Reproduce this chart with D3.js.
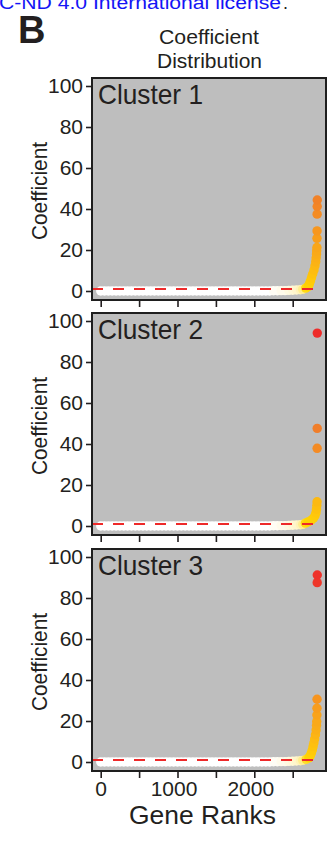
<!DOCTYPE html>
<html>
<head>
<meta charset="utf-8">
<script src="https://cdn.jsdelivr.net/npm/d3@7"></script>
<style>
    body { margin: 0; background: #fff; }
    svg { display: block; }
    text { font-family: "Liberation Sans", Arial, sans-serif; fill: #231f20; }
</style>
</head>
<body>
<script>
//chart values
var clusterNames = ["Cluster 1", "Cluster 2", "Cluster 3"];
var yTicks = [0, 20, 40, 60, 80, 100];
var xTicks = [0, 500, 1000, 1500, 2000, 2500];
var xTickLabels = ["0", "", "1000", "", "2000", ""];
var threshold = 1;

//bulk of the genes, coefficient about zero (same in the three clusters)
var lowRanks = [1, 50, 100, 150, 200, 250, 300, 350, 400, 450, 500, 550, 600, 650, 700, 750,
    800, 850, 900, 950, 1000, 1050, 1100, 1150, 1200, 1250, 1300, 1350, 1400, 1450, 1500, 1550,
    1600, 1650, 1700, 1750, 1800, 1850, 1900, 1950, 2000, 2050, 2100, 2150, 2200, 2250, 2300,
    2350, 2400, 2450, 2500, 2550, 2600];
var lowCoef = [0, 0, 0, 0, 0, 0, 0, 0, 0, 0, 0, 0, 0, 0, 0, 0,
    0, 0, 0, 0, 0, 0, 0, 0, 0, 0, 0, 0, 0, 0, 0, 0,
    0, 0, 0, 0, 0, 0, 0, 0, 0, 0, 0, 0, 0, 0.1, 0.1,
    0.2, 0.2, 0.3, 0.4, 0.5, 0.6];

//top ranked genes of each cluster
var tailRanks1 = [2630, 2670, 2700, 2715, 2730, 2745, 2760, 2777, 2790, 2800, 2806, 2810, 2812, 2815, 2816, 2817, 2818, 2819, 2820];
var tailCoef1 = [0.8, 1.4, 2.1, 3.2, 4.8, 6.5, 8.3, 10.2, 12.3, 14.3, 16.2, 18.0, 19.6, 21.2, 25.7, 29.3, 37.5, 41.2, 44.4];
var tailRanks2 = [2630, 2665, 2700, 2740, 2770, 2790, 2803, 2810, 2814, 2817, 2818, 2819, 2820];
var tailCoef2 = [0.8, 1.4, 2.0, 2.8, 3.8, 5.0, 6.5, 8.2, 10.0, 11.8, 37.9, 47.6, 94.1];
var tailRanks3 = [2630, 2675, 2710, 2728, 2742, 2755, 2765, 2776, 2786, 2796, 2805, 2810, 2813, 2815, 2816, 2817, 2819, 2820];
var tailCoef3 = [0.8, 1.3, 2.0, 3.0, 4.3, 5.8, 7.5, 9.3, 11.2, 13.3, 15.6, 17.8, 19.7, 22.9, 26.2, 30.6, 87.5, 91.2];

var tailRanks = [tailRanks1, tailRanks2, tailRanks3];
var tailCoefs = [tailCoef1, tailCoef2, tailCoef3];

window.onload = function () {
    var w = 328, h = 846;
    var left = 92, right = 326, panelH = 222;
    var panelTops = [78, 313, 549];
    var ink = "#231f20";

    var svg = d3.select("body").append("svg")
        .attr("width", w)
        .attr("height", h);

    //cut-off license line at the top of the page
    svg.append("text")
        .attr("x", -1).attr("y", 9)
        .attr("font-size", 18)
        .attr("textLength", 282).attr("lengthAdjust", "spacingAndGlyphs")
        .style("fill", "#1414f5")
        .text("C-ND 4.0 International license");
    svg.append("text")
        .attr("x", 283).attr("y", 9)
        .attr("font-size", 18)
        .text(".");

    //panel letter
    svg.append("text")
        .attr("x", 18).attr("y", 43)
        .attr("font-size", 38)
        .attr("font-weight", "bold")
        .text("B");

    //chart title, two lines
    svg.append("text")
        .attr("x", 209).attr("y", 44)
        .attr("text-anchor", "middle")
        .attr("font-size", 21)
        .attr("textLength", 100).attr("lengthAdjust", "spacingAndGlyphs")
        .text("Coefficient");
    svg.append("text")
        .attr("x", 209.5).attr("y", 68)
        .attr("text-anchor", "middle")
        .attr("font-size", 21)
        .attr("textLength", 105).attr("lengthAdjust", "spacingAndGlyphs")
        .text("Distribution");

    //x scale shared by the panels
    var x = d3.scaleLinear()
        .domain([0, 2500])
        .range([100.7, 292.7]);

    //y scale inside one panel
    var y = d3.scaleLinear()
        .domain([0, 100])
        .range([213, 8]);

    //colour goes white -> yellow -> orange -> red with the coefficient
    var color = d3.scaleLinear()
        .domain([0, 0.5, 1.5, 6, 15, 30, 48, 95])
        .range(["#ffffff", "#fff6cc", "#ffd700", "#ffc80a", "#fbb116", "#f7961f", "#f07d2a", "#ee2a2a"])
        .clamp(true);

    clusterNames.forEach(function (name, i) {
        var g = svg.append("g")
            .attr("class", "panel")
            .attr("transform", "translate(0," + panelTops[i] + ")");

        //grey panel
        g.append("rect")
            .attr("x", left).attr("y", 0)
            .attr("width", right - left).attr("height", panelH)
            .style("fill", "#bebebe");

        //points, drawn in rank order so the top genes sit on top
        var pts = lowRanks.map(function (r, k) { return { rank: r, coef: lowCoef[k] }; })
            .concat(tailRanks[i].map(function (r, k) { return { rank: r, coef: tailCoefs[i][k] }; }));

        g.selectAll(".dot")
            .data(pts)
            .enter()
            .append("circle")
            .attr("class", "dot")
            .attr("cx", function (d) { return x(d.rank); })
            .attr("cy", function (d) { return y(d.coef); })
            .attr("r", 4.7)
            .style("fill", function (d) { return color(d.coef); });

        //threshold line
        g.append("line")
            .attr("x1", left).attr("x2", x(d3.max(tailRanks[i])))
            .attr("y1", y(threshold)).attr("y2", y(threshold))
            .style("stroke", "#ee2a2a")
            .style("stroke-width", 2)
            .style("stroke-dasharray", "11,10");

        //panel border
        g.append("rect")
            .attr("x", left).attr("y", 0)
            .attr("width", right - left).attr("height", panelH)
            .style("fill", "none")
            .style("stroke", "#1e1e1e")
            .style("stroke-width", 2);

        //cluster label
        g.append("text")
            .attr("x", 98).attr("y", 26)
            .attr("font-size", 28)
            .attr("textLength", 105).attr("lengthAdjust", "spacingAndGlyphs")
            .text(name);

        //y axis
        var yAxis = g.append("g")
            .attr("class", "axis")
            .attr("transform", "translate(" + (left - 1) + ",0)")
            .call(d3.axisLeft(y).tickValues(yTicks).tickSize(5).tickPadding(3));
        yAxis.select(".domain").remove();
        yAxis.attr("font-family", null).attr("font-size", null);
        yAxis.selectAll("line").style("stroke", ink).style("stroke-width", 1.6);
        yAxis.selectAll("text").attr("font-size", 21).style("fill", ink);

        //x axis ticks under every panel, numbers under the last one only
        var last = i === clusterNames.length - 1;
        var xAxis = g.append("g")
            .attr("class", "axis")
            .attr("transform", "translate(0," + (panelH + 1) + ")")
            .call(d3.axisBottom(x).tickValues(xTicks).tickSize(6).tickPadding(3)
                .tickFormat(function (d, k) { return last ? xTickLabels[k] : ""; }));
        xAxis.select(".domain").remove();
        xAxis.attr("font-family", null).attr("font-size", null);
        xAxis.selectAll("line").style("stroke", ink).style("stroke-width", 1.6);
        xAxis.selectAll("text").attr("font-size", 21).style("fill", ink)
            .attr("dx", function (d) { return d > 0 ? -4 : 0; });

        //y axis title
        g.append("text")
            .attr("transform", "translate(46.5," + (panelH / 2 + 2) + ") rotate(-90)")
            .attr("text-anchor", "middle")
            .attr("font-size", 22)
            .attr("textLength", 98).attr("lengthAdjust", "spacingAndGlyphs")
            .text("Coefficient");
    });

    //x axis title
    svg.append("text")
        .attr("x", 202.5).attr("y", 824)
        .attr("text-anchor", "middle")
        .attr("font-size", 25)
        .attr("textLength", 147).attr("lengthAdjust", "spacingAndGlyphs")
        .text("Gene Ranks");
};
</script>
</body>
</html>
